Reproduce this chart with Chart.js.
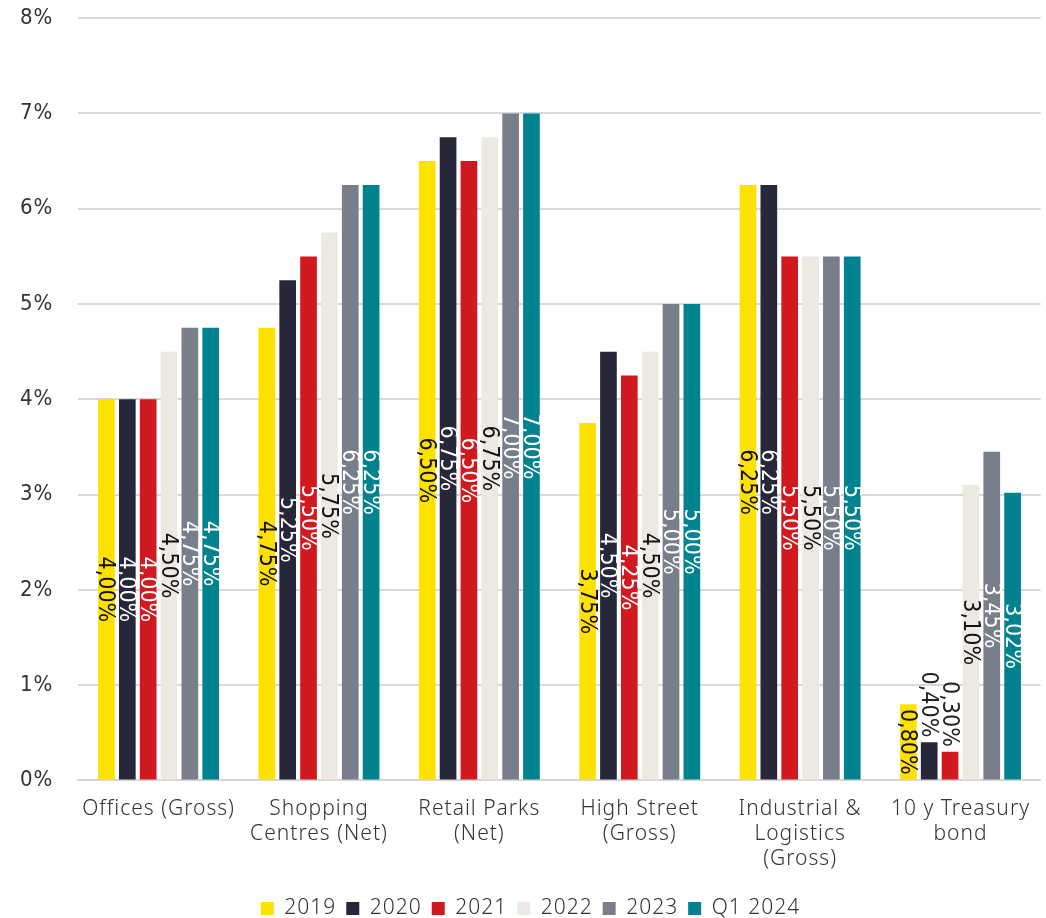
<!DOCTYPE html>
<html>
<head>
<meta charset="utf-8">
<script src="https://cdn.jsdelivr.net/npm/chart.js@4.4.1/dist/chart.umd.min.js"></script>
<style>
  html, body { margin: 0; padding: 0; background: #ffffff; }
  #wrap { width: 1046px; height: 918px; position: relative; }
</style>
</head>
<body>
<div id="wrap"><canvas id="yields"></canvas></div>
<script>
// Prime yields by property segment, plus the 10-year treasury bond
const categories = [
  'Offices (Gross)',
  ['Shopping', 'Centres (Net)'],
  ['Retail Parks', '(Net)'],
  ['High Street', '(Gross)'],
  ['Industrial &', 'Logistics', '(Gross)'],
  ['10 y Treasury', 'bond']
];
const seriesNames = ['2019', '2020', '2021', '2022', '2023', 'Q1 2024'];
const y2019 = [4.00, 4.75, 6.50, 3.75, 6.25, 0.80];
const y2020 = [4.00, 5.25, 6.75, 4.50, 6.25, 0.40];
const y2021 = [4.00, 5.50, 6.50, 4.25, 5.50, 0.30];
const y2022 = [4.50, 5.75, 6.75, 4.50, 5.50, 3.10];
const y2023 = [4.75, 6.25, 7.00, 5.00, 5.50, 3.45];
const yQ1_2024 = [4.75, 6.25, 7.00, 5.00, 5.50, 3.02];
const yTicks = [0, 1, 2, 3, 4, 5, 6, 7, 8];

const seriesValues = [y2019, y2020, y2021, y2022, y2023, yQ1_2024];
const barColors = ['#FFE100', '#262839', '#D11920', '#EDE8E2', '#797F8A', '#00838F'];
const labelColors = ['#111111', '#ffffff', '#ffffff', '#111111', '#ffffff', '#ffffff'];

const textFont = { family: '"Noto Sans", Lato, sans-serif', size: 21, weight: '300', lineHeight: 1.2 };
const tickFont = { family: '"Liberation Sans Narrow", "DejaVu Sans Condensed", sans-serif', size: 22, weight: '400', lineHeight: 1.2 };
const valueFont = '23px "Liberation Sans Narrow", "DejaVu Sans Condensed", sans-serif';

// Slightly open tracking for the category and legend text
const tracking = {
  id: 'tracking',
  beforeUpdate(chart) { chart.ctx.letterSpacing = '1px'; },
  beforeDraw(chart) { chart.ctx.letterSpacing = '1px'; }
};

// Vertical value labels: centred in the bar, or just above it when the bar is too short
const barValueLabels = {
  id: 'barValueLabels',
  afterDatasetsDraw(chart) {
    const ctx = chart.ctx;
    ctx.save();
    ctx.letterSpacing = '0px';
    ctx.font = valueFont;
    chart.data.datasets.forEach((ds, di) => {
      const meta = chart.getDatasetMeta(di);
      meta.data.forEach((bar, i) => {
        const v = ds.data[i];
        const text = v.toFixed(2).replace('.', ',') + '%';
        const w = ctx.measureText(text).width;
        const h = bar.base - bar.y;
        let cy, color;
        if (w + 4 <= h) {
          cy = (bar.y + bar.base) / 2;
          color = labelColors[di];
        } else {
          cy = bar.y - 5 - w / 2;
          color = '#222222';
        }
        ctx.save();
        ctx.translate(bar.x, cy);
        ctx.rotate(Math.PI / 2);
        ctx.fillStyle = color;
        ctx.textAlign = 'center';
        ctx.textBaseline = 'middle';
        ctx.fillText(text, 0, 1);
        ctx.restore();
      });
    });
    ctx.restore();
  }
};

new Chart(document.getElementById('yields'), {
  type: 'bar',
  data: {
    labels: categories,
    datasets: seriesNames.map((name, i) => ({
      label: name,
      data: seriesValues[i],
      backgroundColor: barColors[i],
      borderWidth: 0,
      barPercentage: 0.8,
      categoryPercentage: 0.78
    }))
  },
  options: {
    responsive: true,
    maintainAspectRatio: false,
    animation: false,
    layout: { padding: { left: 15, right: 0, top: 0, bottom: -11 } },
    scales: {
      x: {
        grid: { display: false, drawTicks: false },
        border: { display: true, color: '#d6d6d6', width: 2 },
        ticks: { color: '#333333', font: textFont, padding: 16, maxRotation: 0, autoSkip: false }
      },
      y: {
        min: 0,
        max: 8,
        afterBuildTicks(axis) { axis.ticks = yTicks.map(v => ({ value: v })); },
        grid: { color: '#d9d9d9', lineWidth: 2, drawTicks: true, tickLength: 20, tickColor: 'rgba(0,0,0,0)' },
        border: { display: false },
        ticks: {
          color: '#333333',
          font: tickFont,
          padding: 5,
          callback: v => v + '%'
        }
      }
    },
    plugins: {
      legend: {
        position: 'bottom',
        labels: {
          color: '#333333',
          font: textFont,
          boxWidth: 13,
          boxHeight: 13,
          padding: 10
        }
      },
      tooltip: { enabled: false }
    }
  },
  plugins: [tracking, barValueLabels]
});
</script>
</body>
</html>
